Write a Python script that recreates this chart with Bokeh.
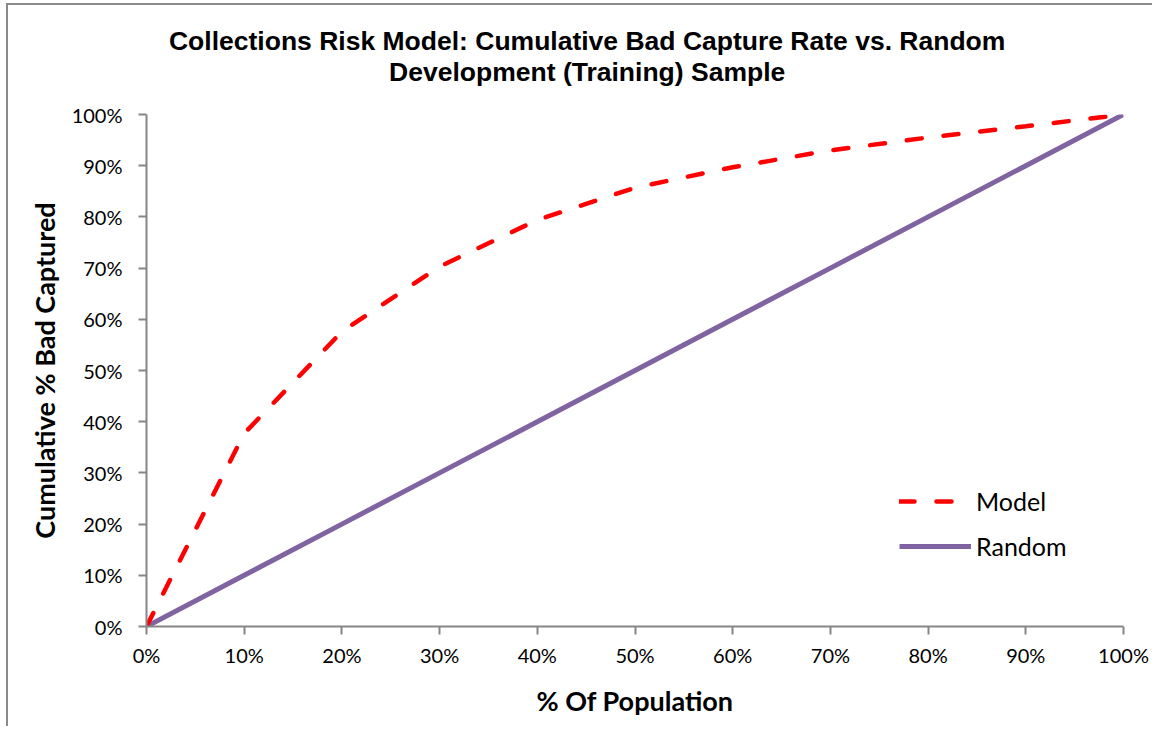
from bokeh.plotting import figure
from bokeh.layouts import column
from bokeh.models import (Range1d, PrintfTickFormatter, FixedTicker, Legend,
                          LegendItem, ColumnDataSource)
from bokeh.core.properties import value
from bokeh.embed import file_html
from bokeh.resources import INLINE

# ---- data ----
population_pct = [0, 10, 20, 30, 40, 50, 60, 70, 80, 90, 100]
model_pct = [0, 37.7, 57.6, 70.3, 79.4, 85.7, 89.7, 93.0, 95.5, 97.7, 100]
random_pct = [0, 10, 20, 30, 40, 50, 60, 70, 80, 90, 100]
tick_values = [0, 10, 20, 30, 40, 50, 60, 70, 80, 90, 100]
series_names = ["Model", "Random"]
title_lines = ["Collections Risk Model: Cumulative Bad Capture Rate vs. Random",
               "Development (Training) Sample"]
x_label = "% Of Population"
y_label = "Cumulative % Bad Captured"

AXIS_GRAY = "#868686"
TICK_FONT = "Lato"
FIG_W = 977 + 138 + 29
TITLE_H = 95

# ---- title strip (two centred lines) ----
t = figure(width=FIG_W, height=TITLE_H, x_range=Range1d(0, FIG_W),
           y_range=Range1d(0, TITLE_H), x_axis_type=None, y_axis_type=None,
           min_border=0, output_backend="svg", toolbar_location=None,
           background_fill_color="white", border_fill_color="white")
t.outline_line_color = None
t.grid.visible = False
title_src = ColumnDataSource(dict(x=[516, 516], y=[59.5, 28.5], text=title_lines))
t.text(x="x", y="y", text="text", source=title_src, text_align="center",
       text_baseline="alphabetic", text_font=value("Liberation Sans"),
       text_font_style="bold", text_font_size="26.5px", text_color="#000000")

# ---- main chart ----
p = figure(frame_width=977, frame_height=512,
           min_border_left=138, min_border_right=29,
           min_border_top=109 - TITLE_H, min_border_bottom=100,
           x_range=Range1d(0, 100), y_range=Range1d(0, 100),
           output_backend="svg", toolbar_location=None,
           background_fill_color="white", border_fill_color="white")
p.outline_line_color = None
p.xgrid.visible = False
p.ygrid.visible = False

for ax in (p.xaxis[0], p.yaxis[0]):
    ax.ticker = FixedTicker(ticks=tick_values)
    ax.formatter = PrintfTickFormatter(format="%d%%")
    ax.axis_line_color = AXIS_GRAY
    ax.axis_line_width = 2
    ax.major_tick_line_color = AXIS_GRAY
    ax.major_tick_line_width = 2
    ax.major_tick_in = 0
    ax.major_tick_out = 8
    ax.minor_tick_in = 0
    ax.minor_tick_out = 0
    ax.major_label_text_font = TICK_FONT
    ax.major_label_text_font_size = "20px"
    ax.major_label_text_color = "#000000"
    ax.axis_label_text_font = TICK_FONT
    ax.axis_label_text_font_style = "bold"
    ax.axis_label_text_font_size = "27px"
    ax.axis_label_text_color = "#000000"

p.xaxis[0].axis_label = x_label
p.yaxis[0].axis_label = y_label
p.xaxis[0].major_label_standoff = 8
p.yaxis[0].major_label_standoff = 16
p.xaxis[0].axis_label_standoff = 14
p.yaxis[0].axis_label_standoff = 8

r_rand = p.line(population_pct, random_pct, line_color="#8064A2", line_width=5)
r_model = p.line(population_pct, model_pct, line_color="#FF0000", line_width=4.5,
                 line_dash="15 22", line_cap="round")

legend = Legend(items=[LegendItem(label=series_names[0], renderers=[r_model]),
                       LegendItem(label=series_names[1], renderers=[r_rand])],
                location=(753, 65), orientation="vertical",
                border_line_color=None, background_fill_alpha=0,
                padding=0, margin=0, spacing=15,
                glyph_width=72, glyph_height=20, label_height=20,
                label_standoff=5, label_text_font=TICK_FONT,
                label_text_font_size="25px", label_text_color="#000000")
p.add_layout(legend)

layout = column(t, p, spacing=0)
layout.styles = {"border-left": "2px solid #8a8a8a", "border-top": "2px solid #8a8a8a",
                 "margin-left": "6px", "margin-top": "3px"}

open("out.html", "w").write(file_html(layout, INLINE))
